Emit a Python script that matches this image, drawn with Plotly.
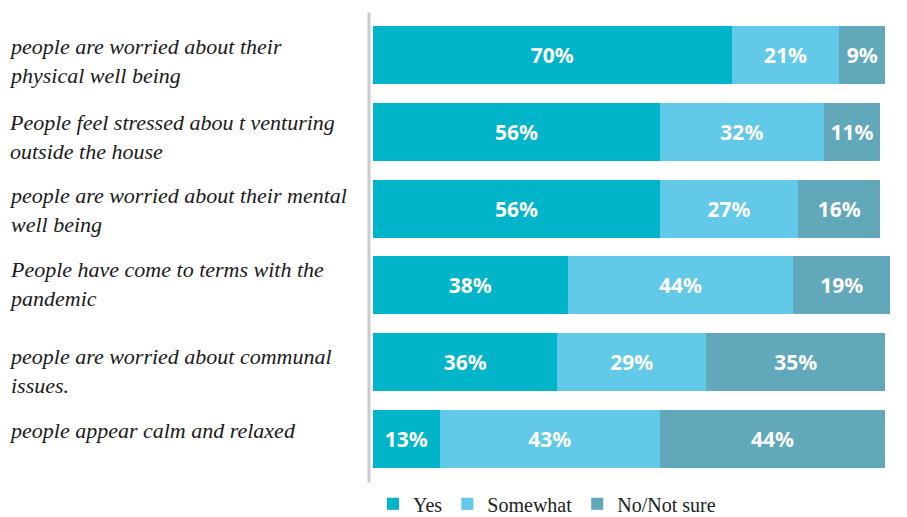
import plotly.graph_objects as go

# Survey statements (top to bottom) and response shares in percent
statements = [
    "people are worried about their<br>physical well being",
    "People feel stressed abou t venturing<br>outside the house",
    "people are worried about their mental<br>well being",
    "People have come to terms with the<br>pandemic",
    "people are worried about communal<br>issues.",
    "people appear calm and relaxed",
]
yes = [70, 56, 56, 38, 36, 13]
somewhat = [21, 32, 27, 44, 29, 43]
no_not_sure = [9, 11, 16, 19, 35, 44]

series = [
    ("Yes", yes, "#00B5CA"),
    ("Somewhat", somewhat, "#63C9E8"),
    ("No/Not sure", no_not_sure, "#62A8BB"),
]

cats = list(range(len(statements)))

fig = go.Figure()
for name, vals, color in series:
    fig.add_trace(go.Bar(
        name=name,
        y=cats,
        x=vals,
        orientation="h",
        marker=dict(color=color, line=dict(width=0)),
        text=[f"{v}%" for v in vals],
        textposition="inside",
        insidetextanchor="middle",
        textangle=0,
        constraintext="none",
        textfont=dict(family="Noto Sans", size=21, color="white", weight="bold"),
        hoverinfo="skip",
    ))

# Left-aligned statement labels
label_shift = [-6, -5, -1, 1, -9, 8]
plot_left, plot_right = 373, 893
plot_w = plot_right - plot_left
for i, s in enumerate(statements):
    fig.add_annotation(
        x=(7 - plot_left) / plot_w, xref="paper",
        y=i, yref="y",
        text=s, showarrow=False,
        xanchor="left", yanchor="middle", align="left",
        yshift=label_shift[i],
        font=dict(family="Liberation Serif", size=22, color="#1a1a1a", style="italic"),
    )

# Vertical divider to the left of the bars
fig.add_shape(
    type="line", xref="paper", yref="paper",
    x0=-4 / plot_w, x1=-4 / plot_w, y0=-0.012, y1=1.01,
    line=dict(color="#cccccc", width=3),
)

fig.update_layout(
    width=907, height=517,
    margin=dict(l=plot_left, r=907 - plot_right, t=17, b=40, autoexpand=False),
    barmode="stack",
    bargap=0.243,
    plot_bgcolor="white",
    paper_bgcolor="white",
    showlegend=True,
    legend=dict(
        orientation="h",
        x=0.0, xanchor="left",
        y=-0.016, yanchor="top",
        font=dict(family="Liberation Serif", size=20, color="#222222"),
        itemsizing="constant",
        traceorder="normal",
    ),
    xaxis=dict(range=[0, 101.5], visible=False, fixedrange=True),
    yaxis=dict(
        range=[5.5, -0.5], visible=False, fixedrange=True,
    ),
)

fig.write_html("out.html")
